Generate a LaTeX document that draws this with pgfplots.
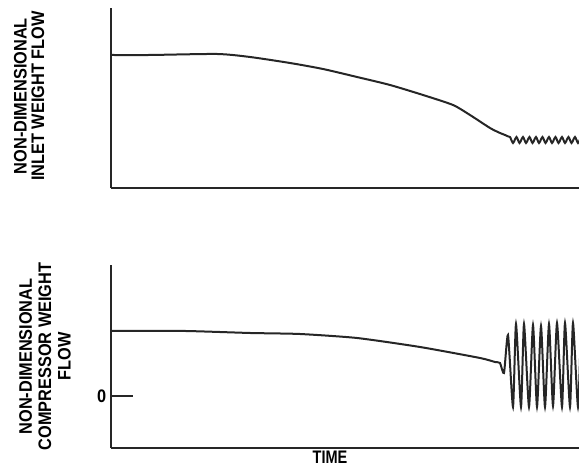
\documentclass[border=0pt]{standalone}
\usepackage{pgfplots}
\pgfplotsset{compat=1.18}
\usepackage{fontspec}
\setmainfont{Liberation Sans}
\newfontfamily\lab[FakeStretch=0.9]{Liberation Sans Bold}
\newfontfamily\labnarrow[FakeStretch=0.8]{Liberation Sans Bold}
\newcommand\labfont{\lab\fontsize{13.6}{13.2}\selectfont}

\pgfplotsset{
  scanaxis/.style={
    scale only axis,
    width=351pt,
    xmin=111, xmax=579,
    axis x line=bottom, axis y line=left,
    axis line style={-, line width=1.6pt, black!85},
    xtick=\empty,
    clip=true,
    ylabel style={rotate=0, align=center, font=\labfont, anchor=center},
  },
  trace/.style={black!85, line width=1.5pt, no marks},
}

\begin{document}
\begin{tikzpicture}
\useasboundingbox (0,0) rectangle (434.25pt,354.75pt);

% inlet weight flow
\begin{axis}[scanaxis,
  at={(83.25pt,213.75pt)}, anchor=south west,
  height=135pt,
  ymin=285, ymax=465,
  ytick=\empty,
  ylabel={NON-DIMENSIONAL\\INLET WEIGHT FLOW},
  ylabel style={at={(axis description cs:-0.175,0.51)}},
]
\addplot[trace, smooth, tension=0.4] coordinates {
(111,418) (150,418) (217,419) (250,416) (290,410) (323,404) (357,396)
(390,388) (423,378) (453,368) (470,358) (490,345) (500,340) (505,338)
(507,337) (510,336) (513,330) (516.5,336) (519.5,330) (523,336) (526,330)
(529.5,336) (532.5,330) (536,336) (539,330) (542.5,336) (545.5,330)
(549,336) (552,330) (555.5,336) (558.5,330) (562,336) (565,330)
(568.5,336) (571.5,330) (575,336) (578,330) (581,336)
};
\end{axis}

% compressor weight flow
\begin{axis}[scanaxis,
  at={(83.25pt,18.75pt)}, anchor=south west,
  height=137.25pt,
  ymin=25, ymax=208,
  ytick={77}, yticklabels={0},
  tick align=inside,
  major tick length=16.5pt,
  tick style={line width=1.3pt, black!85},
  yticklabel style={font=\labfont},
  ylabel={NON-DIMENSIONAL\\COMPRESSOR WEIGHT\\FLOW},
  ylabel style={at={(axis description cs:-0.141,0.5)}, font=\lab\fontsize{13.6}{14.5}\selectfont},
  xlabel={TIME},
  xlabel style={font=\labnarrow\fontsize{13.6}{13.6}\selectfont, at={(axis description cs:0.468,0)}, anchor=north, yshift=1.5pt},
]
\addplot[trace, smooth, tension=0.35] coordinates {
(111,142) (185,142) (250,140) (300,139) (357,135) (420,126) (480,115)
(495,111) (500,110) (504,100) (508,138) (513,66) (516,149) (521,66)
(524,149) (529,66) (533,148) (537,66) (541,147) (545,66) (549,149)
(553,67) (557,150) (562,66) (565,150) (570,66) (573,150) (578,66) (581,150)
};
\end{axis}
\end{tikzpicture}
\end{document}
